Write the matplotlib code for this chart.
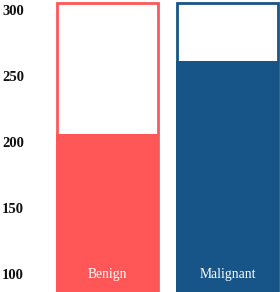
import matplotlib
matplotlib.use('Agg')
from matplotlib import pyplot as plt
from matplotlib.patches import Rectangle

# ********** Data **********

categories = ['Benign', 'Malignant']
values = [205, 260]
bar_colors = ['#ff5757', '#175589']
tick_values = [100, 150, 200, 250, 300]

# ********** Figure **********

fig = plt.figure(figsize=(2.80, 2.92), dpi=100)
ax = fig.add_axes([56 / 280, 0, 224 / 280, 1])
y_bottom = 85.2
y_top = 306.4
box_top = 305.3
ax.set_ylim(y_bottom, y_top)
ax.set_xlim(0, 224)

bar_left = [0, 120]
bar_width = 103

for i in range(len(categories)):
	x0 = bar_left[i]
	# filled part
	ax.bar(x0, values[i] - y_bottom, bottom=y_bottom, width=bar_width, align='edge',
		color=bar_colors[i], linewidth=0, zorder=1)
	# outline box
	ax.add_patch(Rectangle((x0 + 1, y_bottom - 5), bar_width - 2, box_top - y_bottom + 4,
		fill=False, edgecolor=bar_colors[i], linewidth=2.0, zorder=2))
	ax.text(x0 + bar_width / 2, 99.5, categories[i], color='white', ha='center', va='center_baseline',
		family='Liberation Serif', fontsize=9.8, zorder=3)

ax.axis('off')

for t in tick_values:
	fig.text(2 / 280, (ax.transData.transform((0, t))[1] - 1.2) / fig.bbox.height, str(t),
		ha='left', va='center_baseline', family='Liberation Serif', fontweight='bold', fontsize=10.5,
		color='#111111')

fig.savefig('out.png', dpi=100)
